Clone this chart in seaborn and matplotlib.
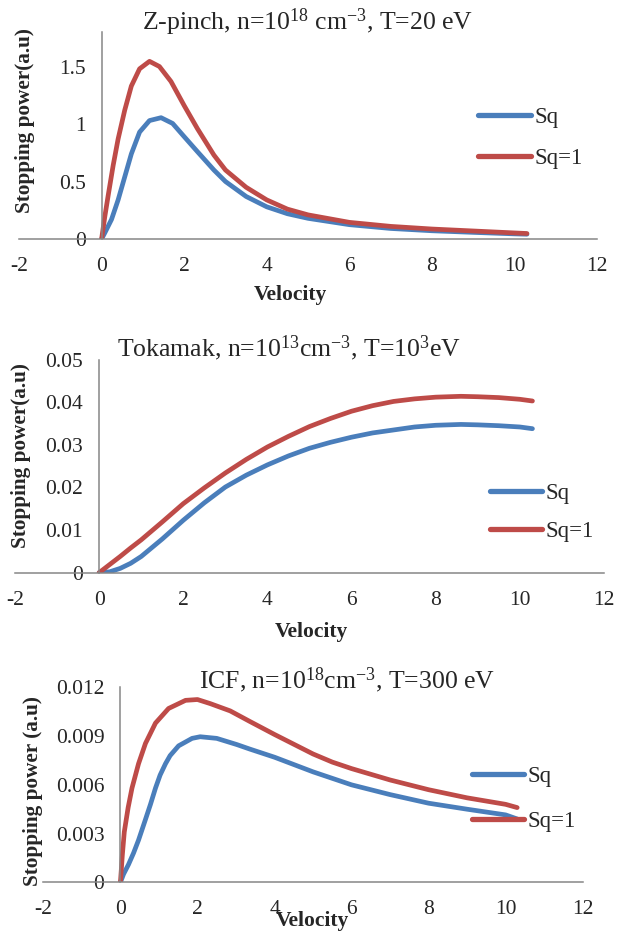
import matplotlib
matplotlib.use("Agg")
import matplotlib.pyplot as plt
import pandas as pd
import seaborn as sns

# --- data ---
# Z-pinch panel
zpinch_vel_sq = [0, 0.08, 0.24, 0.4, 0.56, 0.72, 0.92, 1.16, 1.44, 1.72, 2.0, 2.32,
                 2.72, 3.0, 3.5, 4.0, 4.5, 5.0, 6.0, 7.0, 8.0, 9.0, 10.0, 10.3]
zpinch_sq = [0, 0.055, 0.17, 0.34, 0.54, 0.74, 0.93, 1.03, 1.055, 1.005, 0.89, 0.76,
             0.6, 0.5, 0.37, 0.28, 0.22, 0.18, 0.125, 0.092, 0.072, 0.058, 0.045, 0.042]
zpinch_vel_sq1 = [0, 0.08, 0.16, 0.28, 0.4, 0.56, 0.72, 0.92, 1.16, 1.4, 1.68, 2.0,
                  2.32, 2.72, 3.0, 3.5, 4.0, 4.5, 5.0, 6.0, 7.0, 8.0, 9.0, 10.0, 10.3]
zpinch_sq1 = [0, 0.2, 0.38, 0.64, 0.87, 1.12, 1.33, 1.48, 1.545, 1.5, 1.37, 1.16,
              0.96, 0.73, 0.6, 0.45, 0.34, 0.26, 0.21, 0.145, 0.11, 0.087, 0.07, 0.053, 0.048]

# Tokamak panel
tok_vel = [0, 0.25, 0.5, 0.75, 1, 1.5, 2, 2.5, 3, 3.5, 4, 4.5, 5, 5.5, 6, 6.5,
           7, 7.5, 8, 8.6, 9, 9.5, 10, 10.3]
tok_sq = [0, 0.0002, 0.001, 0.0022, 0.0038, 0.0079, 0.0123, 0.0164, 0.0201, 0.0229,
          0.0253, 0.0274, 0.0292, 0.0306, 0.0318, 0.0328, 0.0335, 0.0342, 0.0346,
          0.0348, 0.0347, 0.0345, 0.0342, 0.0338]
tok_sq1 = [0, 0.0019, 0.0038, 0.0058, 0.0077, 0.0119, 0.0162, 0.0199, 0.0234, 0.0266,
           0.0295, 0.0320, 0.0343, 0.0362, 0.0379, 0.0392, 0.0402, 0.0408, 0.0412,
           0.0414, 0.0413, 0.0411, 0.0407, 0.0403]

# ICF panel
icf_vel_sq = [0, 0.08, 0.21, 0.34, 0.47, 0.64, 0.78, 0.91, 1.03, 1.17, 1.29, 1.51,
              1.86, 2.07, 2.5, 3.02, 3.36, 4, 4.5, 5, 5.5, 6, 7, 8, 9, 10, 10.3]
icf_sq = [0, 0.0005, 0.0011, 0.0018, 0.0026, 0.0038, 0.0048, 0.0058, 0.0066, 0.0073,
          0.0078, 0.0084, 0.00886, 0.00896, 0.00886, 0.00848, 0.0082, 0.0077,
          0.00725, 0.0068, 0.0064, 0.006, 0.0054, 0.00487, 0.0045, 0.00415, 0.0039]
icf_vel_sq1 = [0, 0.05, 0.1, 0.2, 0.3, 0.47, 0.65, 0.91, 1.25, 1.69, 2.0, 2.33,
               2.85, 3.36, 4, 4.5, 5, 5.5, 6, 7, 8, 9, 10, 10.3]
icf_sq1 = [0, 0.0017, 0.0031, 0.0046, 0.0058, 0.0073, 0.00855, 0.0098, 0.0107, 0.0112,
           0.01125, 0.011, 0.01055, 0.0099, 0.0091, 0.0085, 0.0079, 0.0074, 0.007,
           0.0063, 0.0057, 0.0052, 0.0048, 0.0046]

series_names = ["Sq", "Sq=1"]
xticks = [-2, 0, 2, 4, 6, 8, 10, 12]
xtick_labels = ["-2", "0", "2", "4", "6", "8", "10", "12"]

zpinch_yticks = [0, 0.5, 1, 1.5]
zpinch_ylabels = ["0", "0.5", "1", "1.5"]
tok_yticks = [0, 0.01, 0.02, 0.03, 0.04, 0.05]
tok_ylabels = ["0", "0.01", "0.02", "0.03", "0.04", "0.05"]
icf_yticks = [0, 0.003, 0.006, 0.009, 0.012]
icf_ylabels = ["0", "0.003", "0.006", "0.009", "0.012"]

titles = [
    r"Z-pinch, n=10$^{\mathrm{18}}$ cm$^{\mathrm{-3}}$, T=20 eV",
    r"Tokamak, n=10$^{\mathrm{13}}$cm$^{\mathrm{-3}}$, T=10$^{\mathrm{3}}$eV",
    r"ICF, n=10$^{\mathrm{18}}$cm$^{\mathrm{-3}}$, T=300 eV",
]

BLUE = "#4A7EBB"
RED = "#BE4B48"
AXIS_GRAY = "#868686"


def make_frame(vel_sq, sq, vel_sq1, sq1):
    df_sq = pd.DataFrame({"Velocity": vel_sq, "value": sq, "series": series_names[0]})
    df_sq1 = pd.DataFrame({"Velocity": vel_sq1, "value": sq1, "series": series_names[1]})
    return pd.concat([df_sq, df_sq1], ignore_index=True)


def style_axis(ax, ymax, yticks, ylabels, ylabel, title, title_pos, title_size,
               xlab_pos, ylab_pos, leg_pos, leg_space):
    ax.set_xlim(-2, 12)
    ax.set_ylim(0, ymax)
    ax.spines["left"].set_position(("data", 0))
    ax.spines["top"].set_visible(False)
    ax.spines["right"].set_visible(False)
    for side in ["left", "bottom"]:
        ax.spines[side].set_color(AXIS_GRAY)
        ax.spines[side].set_linewidth(1.1)
    ax.set_xticks(xticks)
    ax.set_xticklabels(xtick_labels)
    ax.set_yticks(yticks)
    ax.set_yticklabels(ylabels)
    ax.tick_params(axis="x", direction="out", length=4.5, width=1.1,
                   color=AXIS_GRAY, pad=8.5, labelsize=15.5)
    ax.tick_params(axis="y", direction="out", length=4.5, width=1.1,
                   color=AXIS_GRAY, pad=7, labelsize=15.5)
    ax.set_xlabel("Velocity", fontsize=15.5, fontweight="bold")
    ax.set_ylabel(ylabel, fontsize=15.3, fontweight="bold")
    ax.xaxis.set_label_coords(*xlab_pos)
    ax.yaxis.set_label_coords(*ylab_pos)
    ax.text(title_pos[0], title_pos[1], title, transform=ax.transAxes,
            ha="center", va="center", fontsize=title_size)
    handles, labels = ax.get_legend_handles_labels()
    ax.legend(handles, labels, loc="center left", bbox_to_anchor=leg_pos,
              frameon=False, fontsize=16.5, handlelength=2.3, handletextpad=0.15,
              labelspacing=leg_space, borderpad=0, borderaxespad=0)
    for line in ax.get_legend().get_lines():
        line.set_linewidth(3.8)
        line.set_solid_capstyle("round")


def main():
    sns.set_theme(style="white")
    plt.rcParams["font.family"] = ["Liberation Serif", "DejaVu Serif"]
    plt.rcParams["mathtext.fontset"] = "custom"
    plt.rcParams["mathtext.rm"] = "Liberation Serif"
    plt.rcParams["mathtext.it"] = "Liberation Serif:italic"
    plt.rcParams["mathtext.bf"] = "Liberation Serif:bold"
    plt.rcParams["axes.unicode_minus"] = False

    fig = plt.figure(figsize=(6.19, 9.33), dpi=100)
    ax1 = fig.add_axes([0.0307, 0.7438, 0.934, 0.2219])
    ax2 = fig.add_axes([0.0242, 0.3862, 0.9515, 0.2283])
    ax3 = fig.add_axes([0.0701, 0.0543, 0.8712, 0.209])

    panels = [
        (ax1, make_frame(zpinch_vel_sq, zpinch_sq, zpinch_vel_sq1, zpinch_sq1), 1.8,
         zpinch_yticks, zpinch_ylabels, "Stopping power(a.u)", titles[0],
         (0.5, 1.048), 18.5, (0.469, -0.222), (0.0285, 0.57), (0.794, 0.488), 0.85),
        (ax2, make_frame(tok_vel, tok_sq, tok_vel, tok_sq1), 0.05,
         tok_yticks, tok_ylabels, "Stopping power(a.u)", titles[1],
         (0.465, 1.056), 18.5, (0.504, -0.232), (0.0268, 0.549), (0.806, 0.283), 0.75),
        (ax3, make_frame(icf_vel_sq, icf_sq, icf_vel_sq1, icf_sq1), 0.012,
         icf_yticks, icf_ylabels, "Stopping power (a.u)", titles[2],
         (0.563, 1.037), 18.5, (0.498, -0.148), (-0.0015, 0.468), (0.794, 0.427), 1.07),
    ]

    for ax, df, ymax, yt, yl, ylab, title, tpos, tsize, xpos, ypos, lpos, lsp in panels:
        sns.lineplot(data=df, x="Velocity", y="value", hue="series",
                     palette=[BLUE, RED], linewidth=3.4, sort=False,
                     estimator=None, ax=ax)
        for line in ax.get_lines():
            line.set_solid_capstyle("round")
            line.set_solid_joinstyle("round")
        style_axis(ax, ymax, yt, yl, ylab, title, tpos, tsize, xpos, ypos, lpos, lsp)

    fig.savefig("out.png", dpi=100)


if __name__ == "__main__":
    main()
